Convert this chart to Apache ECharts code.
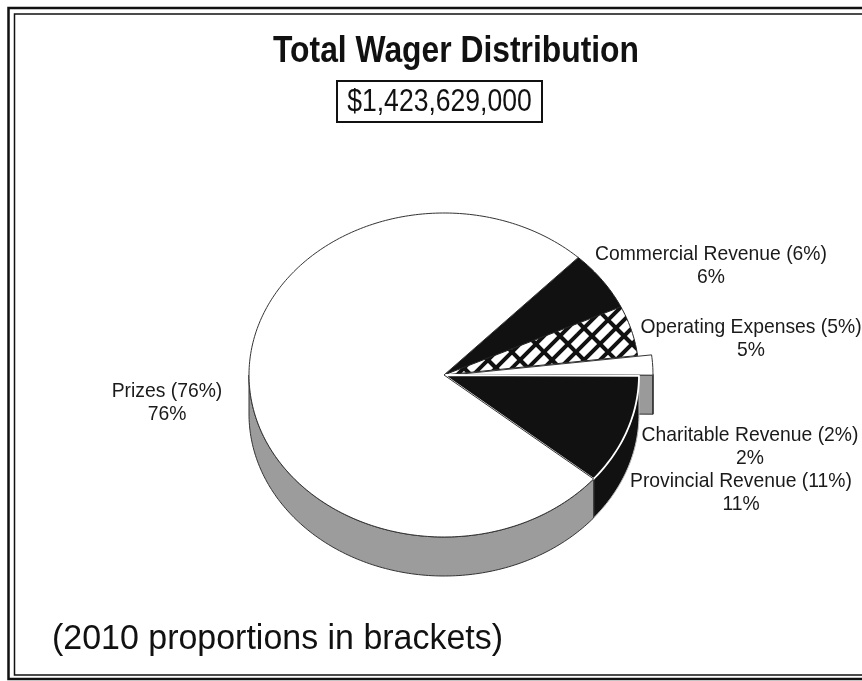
<!DOCTYPE html>
<html>
<head>
<meta charset="utf-8">
<title>Total Wager Distribution</title>
<script src="https://cdn.jsdelivr.net/npm/echarts@6/dist/echarts.min.js"></script>
<style>
    html, body { margin: 0; padding: 0; background: #fff; }
    #chart { width: 862px; height: 681px; }
</style>
</head>
<body>
<div id="chart"></div>
<script>
// Slices in clockwise order, starting at the top right of the pie
const categories = ['Commercial Revenue', 'Operating Expenses', 'Charitable Revenue', 'Provincial Revenue', 'Prizes'];
const shares = [6, 5, 2, 11, 76];          // current year, %
const shares2010 = [6, 5, 2, 11, 76];      // shown in brackets
const totalWager = '$1,423,629,000';
const explodedSlice = 'Charitable Revenue';

document.addEventListener('DOMContentLoaded', function() {
    const chart = echarts.init(document.getElementById('chart'), null, { renderer: 'canvas' });

    // pie geometry (3D look: flattened ellipse + side wall)
    const cx = 444, cy = 375, rx = 195, ry = 162, depth = 39;
    const startAngle = 46.5;   // degrees, counterclockwise from 3 o'clock
    const explodeBy = 14;

    const font = '"Liberation Sans", Arial, sans-serif';

    // brick hatch used for Operating Expenses
    function brickPattern() {
        const s = 32, step = 16;
        const c = document.createElement('canvas');
        c.width = s; c.height = s;
        const g = c.getContext('2d');
        g.fillStyle = '#fff';
        g.fillRect(0, 0, s, s);
        g.strokeStyle = '#111';
        g.lineWidth = 4;
        for (let k = -3; k <= 7; k++) {
            const c0 = k * step;
            g.beginPath();
            g.moveTo(-s, c0 + s);
            g.lineTo(2 * s, c0 - 2 * s);
            g.stroke();
        }
        [0, 1].forEach(k => {
            const c0 = k * step;
            const ts = k % 2 === 0 ? [0, step] : [step / 2, step * 1.5];
            ts.forEach(t => {
                for (let dx = -s; dx <= s; dx += s) {
                    for (let dy = -s; dy <= s; dy += s) {
                        g.beginPath();
                        g.moveTo(t + dx, c0 - t + dy);
                        g.lineTo(t + step / 2 + dx, c0 - t + step / 2 + dy);
                        g.stroke();
                    }
                }
            });
        });
        return { image: c, repeat: 'repeat' };
    }

    const topFill = {
        'Commercial Revenue': '#111',
        'Operating Expenses': brickPattern(),
        'Charitable Revenue': '#fff',
        'Provincial Revenue': '#111',
        'Prizes': '#fff'
    };
    const topStroke = {
        'Commercial Revenue': '#222',
        'Operating Expenses': '#222',
        'Charitable Revenue': '#333',
        'Provincial Revenue': '#fff',
        'Prizes': '#333'
    };
    const sideFill = {
        'Commercial Revenue': '#111',
        'Operating Expenses': '#111',
        'Charitable Revenue': '#9a9a9a',
        'Provincial Revenue': '#111',
        'Prizes': '#9c9c9c'
    };

    // label anchors (centre of the two-line block)
    const labelAnchors = {
        'Commercial Revenue': [711, 266],
        'Operating Expenses': [751, 339],
        'Charitable Revenue': [750, 447],
        'Provincial Revenue': [741, 493],
        'Prizes': [167, 403]
    };

    // slice angles from the values
    const total = shares.reduce((a, b) => a + b, 0);
    const slices = [];
    let acc = startAngle;
    shares.forEach((v, i) => {
        const span = v / total * 360;
        const from = acc, to = acc - span, mid = acc - span / 2;
        const off = categories[i] === explodedSlice ? explodeBy : 0;
        const rad = mid * Math.PI / 180;
        slices.push({
            from: from, to: to, mid: mid,
            ox: off * Math.cos(rad), oy: -off * Math.sin(rad) * ry / rx
        });
        acc = to;
    });

    function pt(s, deg, dz) {
        const a = deg * Math.PI / 180;
        return [cx + s.ox + rx * Math.cos(a), cy + s.oy - ry * Math.sin(a) + (dz || 0)];
    }
    function arc(s, a1, a2, dz) {
        const pts = [];
        const n = Math.max(2, Math.ceil(Math.abs(a1 - a2)));
        for (let j = 0; j <= n; j++) {
            pts.push(pt(s, a1 + (a2 - a1) * j / n, dz));
        }
        return pts;
    }

    // top faces
    function renderTop(params) {
        const i = params.dataIndex, s = slices[i], name = categories[i];
        const pts = [[cx + s.ox, cy + s.oy]].concat(arc(s, s.from, s.to, 0));
        return {
            type: 'polygon',
            shape: { points: pts },
            style: {
                fill: topFill[name],
                stroke: topStroke[name],
                lineWidth: name === 'Provincial Revenue' ? 1.8 : 1,
                lineJoin: 'round'
            }
        };
    }

    // outer wall, only the part facing the viewer
    function renderWall(params) {
        const i = params.dataIndex, s = slices[i], name = categories[i];
        const children = [];
        [-1, 0, 1].forEach(k => {
            const lo = Math.max(s.to, -180 + 360 * k);
            const hi = Math.min(s.from, 360 * k);
            if (hi - lo > 0.05) {
                const pts = arc(s, hi, lo, 0).concat(arc(s, lo, hi, depth));
                children.push({
                    type: 'polygon',
                    shape: { points: pts },
                    style: {
                        fill: sideFill[name],
                        stroke: name === 'Provincial Revenue' ? '#bbb' : '#333',
                        lineWidth: 1
                    }
                });
            }
        });
        return { type: 'group', children: children };
    }

    // cut face of the pulled-out slice
    function renderCut(params) {
        const i = params.dataIndex, s = slices[i], name = categories[i];
        if (name !== explodedSlice) return { type: 'group', children: [] };
        const c0 = [cx + s.ox, cy + s.oy];
        const rim = pt(s, s.to, 0);
        const pts = [c0, rim, [rim[0], rim[1] + depth], [c0[0], c0[1] + depth]];
        return {
            type: 'polygon',
            shape: { points: pts },
            style: { fill: sideFill[name], stroke: '#333', lineWidth: 1 }
        };
    }

    const seriesData = categories.map((name, i) => ({ name: name, value: shares[i] }));

    const labelGraphics = categories.map((name, i) => ({
        type: 'text',
        x: labelAnchors[name][0],
        y: labelAnchors[name][1],
        scaleX: 0.92,
        z: 10,
        style: {
            text: name + ' (' + shares2010[i] + '%)\n' + shares[i] + '%',
            fontSize: 21,
            fontFamily: font,
            lineHeight: 23,
            fill: '#1a1a1a',
            align: 'center',
            verticalAlign: 'middle'
        }
    }));

    chart.setOption({
        animation: false,
        backgroundColor: '#fff',
        graphic: [
            // double frame (right side runs off the picture)
            { type: 'rect', shape: { x: 8.5, y: 8, width: 880, height: 671 },
              style: { fill: null, stroke: '#111', lineWidth: 2.5 } },
            { type: 'rect', shape: { x: 14.5, y: 14, width: 870, height: 661 },
              style: { fill: null, stroke: '#111', lineWidth: 1.5 } },
            { type: 'text', x: 456, y: 52, scaleX: 0.86,
              style: { text: 'Total Wager Distribution', fontSize: 37, fontWeight: 'bold',
                       fontFamily: font, fill: '#111', align: 'center', verticalAlign: 'middle' } },
            { type: 'rect', shape: { x: 337, y: 81, width: 205, height: 41 },
              style: { fill: '#fff', stroke: '#111', lineWidth: 2 } },
            { type: 'text', x: 439.5, y: 102, scaleX: 0.83,
              style: { text: totalWager, fontSize: 32, fontFamily: font, fill: '#111',
                       align: 'center', verticalAlign: 'middle' } },
            { type: 'text', x: 52, y: 639, scaleX: 0.97,
              style: { text: '(2010 proportions in brackets)', fontSize: 35, fontFamily: font,
                       fill: '#111', align: 'left', verticalAlign: 'middle' } }
        ].concat(labelGraphics),
        series: [
            { type: 'custom', name: 'cut', coordinateSystem: 'none', z: 1,
              silent: true, data: seriesData, renderItem: renderCut },
            { type: 'custom', name: 'walls', coordinateSystem: 'none', z: 2,
              silent: true, data: seriesData, renderItem: renderWall },
            { type: 'custom', name: 'tops', coordinateSystem: 'none', z: 3,
              silent: true, data: seriesData, renderItem: renderTop }
        ]
    });

    window.addEventListener('resize', function() {
        chart.resize();
    });
});
</script>
</body>
</html>
